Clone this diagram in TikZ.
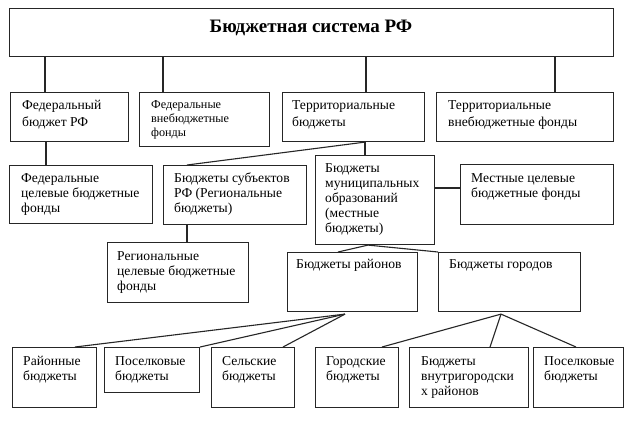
\documentclass[tikz,border=0pt]{standalone}
\usepackage{fontspec}
\setmainfont{Liberation Serif}
\usetikzlibrary{calc}
\tikzset{
  bx/.style={draw=black!85, line width=1.1pt, inner sep=0pt, anchor=north west},
  tx/.style={anchor=north west, inner sep=0pt, align=left, font=\fontsize{13.6}{15}\selectfont},
  txb/.style={tx, font=\fontsize{13.6}{17}\selectfont},
  txs/.style={tx, font=\fontsize{12.2}{14}\selectfont},
  ln/.style={draw=black!85, line width=1.1pt}
}
\newcommand\mkbox[5]{\node[bx, minimum width={(#4-#2)*1pt}, minimum height={(#5-#3)*1pt}] (#1) at (#2,#3) {};}
\begin{document}
\begin{tikzpicture}[x=1pt,y=-1pt]
\useasboundingbox (0,0) rectangle (624,421);
\fill[white] (0,0) rectangle (624,421);
% boxes
\mkbox{top}{9}{8}{613}{56}
\mkbox{fed}{10}{92}{128}{141}
\mkbox{fedvb}{139}{92}{269}{146}
\mkbox{terr}{282}{92}{424}{141}
\mkbox{terrvb}{436}{92}{613}{141}
\mkbox{fedcel}{9}{165}{152}{223}
\mkbox{subj}{163}{165}{306}{224}
\mkbox{mun}{315}{155}{434}{244}
\mkbox{mest}{460}{164}{613}{224}
\mkbox{reg}{107}{242}{248}{302}
\mkbox{rayon}{287}{252}{417}{311}
\mkbox{gorod}{438}{252}{580}{311}
\mkbox{bA}{12}{347}{96}{407}
\mkbox{bB}{104}{347}{199}{392}
\mkbox{bC}{211}{347}{294}{407}
\mkbox{bD}{315}{347}{398}{407}
\mkbox{bE}{409}{347}{528}{407}
\mkbox{bF}{533}{347}{623}{407}
% texts
\node[anchor=base, inner sep=0pt, font=\fontsize{19}{21}\selectfont\bfseries] (ttop) at (311,32) {Бюджетная система РФ};
\node[txb] (tfed) at (22,100) {Федеральный\\бюджет РФ};
\node[txs] (tfedvb) at (151,100) {Федеральные\\внебюджетные\\фонды};
\node[txb] (tterr) at (292,100) {Территориальные\\бюджеты};
\node[txb] (tterrvb) at (448,100) {Территориальные\\внебюджетные фонды};
\node[tx] (tfedcel) at (21,173) {Федеральные\\целевые бюджетные\\фонды};
\node[tx] (tsubj) at (174,173) {Бюджеты субъектов\\РФ (Региональные\\бюджеты)};
\node[tx] (tmun) at (325,163) {Бюджеты\\муниципальных\\образований\\(местные\\бюджеты)};
\node[tx] (tmest) at (471,173) {Местные целевые\\бюджетные фонды};
\node[tx] (treg) at (117,251) {Региональные\\целевые бюджетные\\фонды};
\node[tx] (trayon) at (296,259) {Бюджеты районов};
\node[tx] (tgorod) at (449,259) {Бюджеты городов};
\node[tx] (tbA) at (23,356) {Районные\\бюджеты};
\node[tx] (tbB) at (115,356) {Поселковые\\бюджеты};
\node[tx] (tbC) at (222,356) {Сельские\\бюджеты};
\node[tx] (tbD) at (326,356) {Городские\\бюджеты};
\node[tx] (tbE) at (421,356) {Бюджеты\\внутригородски\\х районов};
\node[tx] (tbF) at (544,356) {Поселковые\\бюджеты};
% connectors
\draw[ln] (top.south west -| 45,0) -- (fed.north west -| 45,0);
\draw[ln] (top.south west -| 163,0) -- (fedvb.north west -| 163,0);
\draw[ln] (top.south west -| 366,0) -- (terr.north west -| 366,0);
\draw[ln] (top.south west -| 555,0) -- (terrvb.north west -| 555,0);
\draw[ln] (fed.south west -| 46,0) -- (fedcel.north west -| 46,0);
\draw[ln] (terr.south west -| 365,0) -- (subj.north west -| 187,0);
\draw[ln] (terr.south west -| 365,0) -- (mun.north west -| 365,0);
\draw[ln] (subj.south west -| 187,0) -- (reg.north west -| 187,0);
\draw[ln] (mun.east |- 0,188) -- (mest.west |- 0,188);
\draw[ln] (mun.south west -| 368,0) -- (rayon.north west -| 338,0);
\draw[ln] (mun.south west -| 368,0) -- (gorod.north west);
\coordinate (ra) at ($(rayon.south west -| 345,0)+(0,2)$);
\coordinate (ga) at ($(gorod.south west -| 501,0)+(0,2)$);
\draw[ln] (ra) -- (bA.north west -| 75,0);
\draw[ln] (ra) -- (bB.north east);
\draw[ln] (ra) -- (bC.north west -| 283,0);
\draw[ln] (ga) -- (bD.north west -| 382,0);
\draw[ln] (ga) -- (bE.north west -| 490,0);
\draw[ln] (ga) -- (bF.north west -| 576,0);
\end{tikzpicture}
\end{document}
